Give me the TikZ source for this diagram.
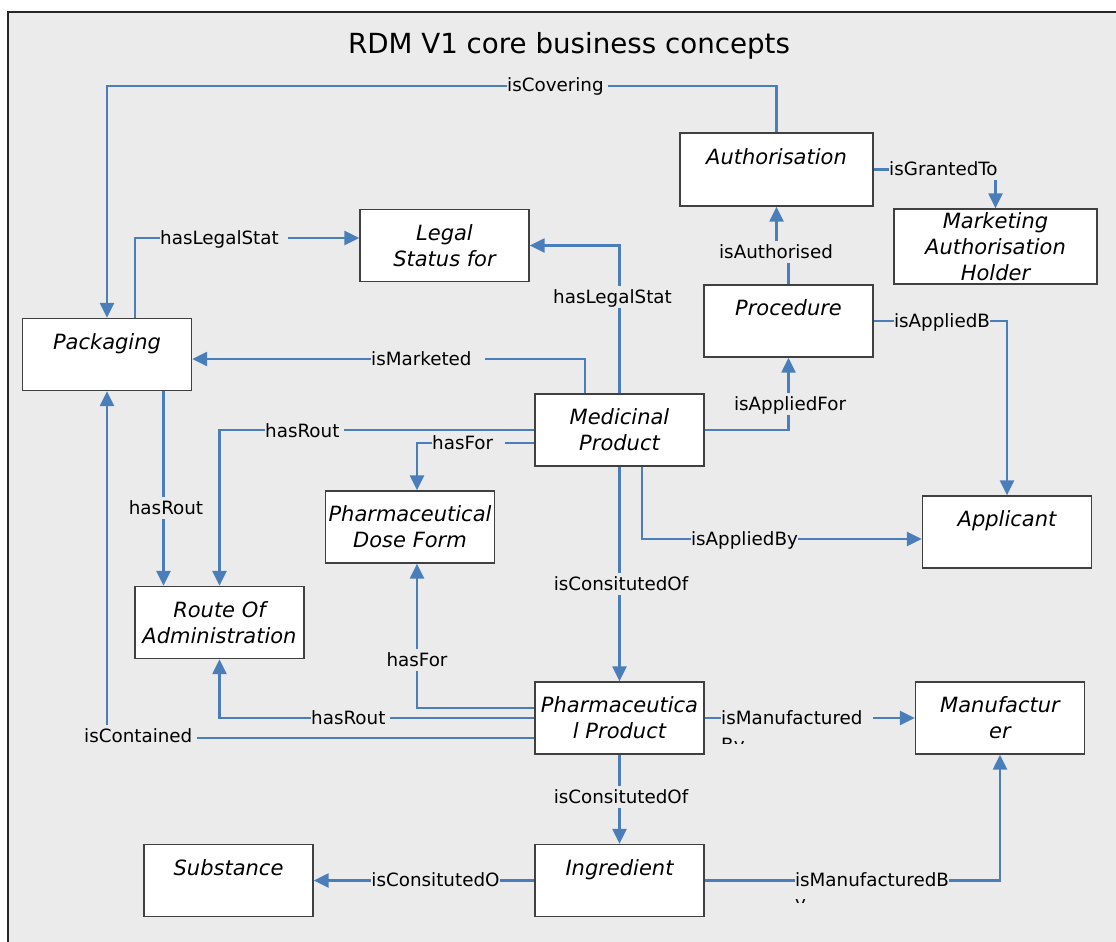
\documentclass[tikz,border=0pt]{standalone}
\usepackage{fontspec}
\setmainfont{DejaVu Sans}
\definecolor{LinkBlue}{HTML}{4A7EBB}
\definecolor{BoxBorder}{HTML}{404040}
\definecolor{Backdrop}{HTML}{EBEBEB}
\newcommand{\conceptfont}{\fontsize{21}{26}\selectfont\itshape}
\newcommand{\relationfont}{\fontsize{18.3}{22}\selectfont}
\usetikzlibrary{arrows.meta}
\tikzset{
    concept/.style={
        draw=BoxBorder, fill=white, line width=1.3pt,
        minimum width=169pt, minimum height=72pt, inner sep=0pt,
        align=center, font=\conceptfont
    },
    relation/.style={
        draw=LinkBlue, line width=2.3pt,
        -{Triangle[length=15pt, width=14pt]}
    },
    rel label/.style={
        fill=Backdrop, inner xsep=0pt, inner ysep=2pt,
        text height=15pt, text depth=3pt, font=\relationfont
    },
    cut label/.style={inner sep=0pt, font=\relationfont}
}

\begin{document}
\begin{tikzpicture}[x=1pt, y=-1pt]

    \fill[white] (0,0) rectangle (1116,942);
    \useasboundingbox (0,0) rectangle (1116,942);
    \clip (0,0) rectangle (1116,942);
    \draw[draw=black!85, line width=1.5pt, fill=Backdrop] (8,12) rectangle (1140,970);

    \node[anchor=base, font=\fontsize{27.7}{32}\selectfont] (title) at (569,53) {RDM V1 core business concepts};

    % Konzepte
    \node[concept, minimum width=193pt, minimum height=73pt] (auth) at (776.5,169.5) {Authorisation\\\mbox{}};
    \node[concept, minimum width=203pt, minimum height=75pt] (mah) at (995.5,246.5) {Marketing\\Authorisation\\Holder};
    \node[concept] (proc) at (788.5,321) {Procedure\\\mbox{}};
    \node[concept] (legal) at (444.5,245.5) {Legal\\Status for};
    \node[concept] (pack) at (107,354.5) {Packaging\\\mbox{}};
    \node[concept] (med) at (619.5,430) {Medicinal\\Product};
    \node[concept] (appl) at (1007,532) {Applicant\\\mbox{}};
    \node[concept] (pdf) at (410,527) {Pharmaceutical\\Dose Form};
    \node[concept] (route) at (219.5,622.5) {Route Of\\Administration};
    \node[concept] (pp) at (619.5,718) {Pharmaceutica\\l Product};
    \node[concept] (manu) at (1000,718) {Manufactur\\er};
    \node[concept] (ingr) at (619.5,880.5) {Ingredient\\\mbox{}};
    \node[concept] (subst) at (228.5,880.5) {Substance\\\mbox{}};

    \coordinate (packrout) at ([xshift=56.5pt]pack.south);

    % Beziehungen
    \draw[relation] (auth.north) |- (pack.north |- 0,86) -- (pack.north);
    \draw[relation] (auth.east) -| (mah.north);
    \draw[relation] (proc.north) |- (auth.south |- 0,252) -- (auth.south);
    \draw[relation] (proc.east) -| (appl.north);
    \draw[relation] (med.east) -| (proc.south);
    \draw[relation] (med.north) |- (legal.east);
    \draw[relation] ([xshift=28pt]pack.north) |- ([yshift=7.5pt]legal.west);
    \draw[relation] ([xshift=-34.5pt]med.north) |- ([yshift=-4.5pt]pack.east);
    \draw[relation] (med.west) -| (route.north);
    \draw[relation] ([yshift=-13pt]med.west) -| ([xshift=7pt]pdf.north);
    \draw[relation] (packrout) -- (packrout |- route.north);
    \draw[relation] ([yshift=-20pt]pp.west) -| (pack.south);
    \draw[relation] ([yshift=10pt]pp.west) -| ([xshift=7pt]pdf.south);
    \draw[relation] (pp.west) -| (route.south);
    \draw[relation] (med.south) -- (pp.north);
    \draw[relation] (pp.east) -- (manu.west);
    \draw[relation] (pp.south) -- (ingr.north);
    \draw[relation] ([xshift=22.5pt]med.south) |- ([yshift=-7pt]appl.west);
    \draw[relation] (ingr.east) -| (manu.south);
    \draw[relation] (ingr.west) -- (subst.east);

    % Beschriftungen
    \node[rel label, anchor=west] (lcov) at (507,86) {isCovering\hspace*{4pt}};
    \node[rel label, anchor=west] (lgrant) at (889,169) {isGrantedTo};
    \node[rel label] (lauth) at (776,252) {isAuthorised};
    \node[rel label] (lappb) at (942,321) {isAppliedB};
    \node[rel label] (lappf) at (790,404) {isAppliedFor};
    \node[rel label] (llegm) at (612.5,297) {hasLegalStat};
    \node[rel label, anchor=west] (llegp) at (160,238) {hasLegalStat\hspace*{9pt}};
    \node[rel label, anchor=west] (lmark) at (371,359) {isMarketed\hspace*{13pt}};
    \node[rel label, anchor=west] (lroutm) at (265,431) {hasRout\hspace*{5pt}};
    \node[rel label, anchor=west] (lform) at (432,443) {hasFor\hspace*{12pt}};
    \node[rel label] (lroutp) at (166,508) {hasRout};
    \node[rel label] (lcons) at (621,584) {isConsitutedOf};
    \node[rel label] (lappby) at (744.5,539) {isAppliedBy};
    \node[rel label] (lformp) at (417,660) {hasFor};
    \node[rel label, anchor=west] (lroutpp) at (311,718) {hasRout\hspace*{5pt}};
    \node[rel label, anchor=west] (lcont) at (84,736) {isContained\hspace*{5pt}};
    \node[rel label, anchor=west] (lmanu) at (721,718) {isManufactured\hspace*{10pt}};
    \node[rel label] (lcons2) at (621,797) {isConsitutedOf};
    \node[rel label] (lmanub) at (872,880) {isManufacturedB};
    \node[rel label] (lconso) at (435.5,880) {isConsitutedO};

    % abgeschnittene zweite Zeilen
    \begin{scope}
        \clip (700,700) rectangle (900,743);
        \node[cut label, anchor=base west] (lmanuby) at (721,751) {By};
    \end{scope}
    \begin{scope}
        \clip (780,890) rectangle (960,902);
        \node[cut label, anchor=base west] (lmanuby2) at (795,909) {y};
    \end{scope}

\end{tikzpicture}
\end{document}
